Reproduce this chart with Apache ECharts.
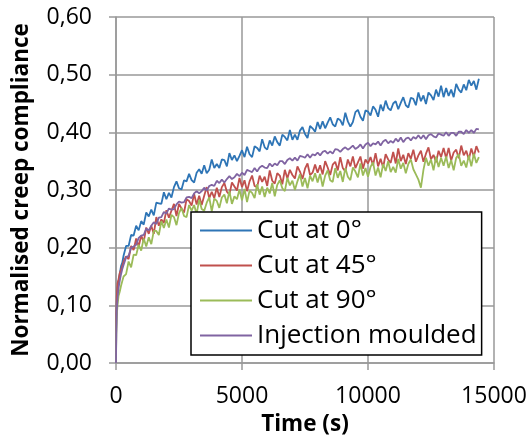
<!DOCTYPE html>
<html><head><meta charset="utf-8">
<script src="https://cdn.jsdelivr.net/npm/echarts@6/dist/echarts.min.js"></script>
<style>html,body{margin:0;padding:0;background:#fff}#c{width:531px;height:447px}</style>
</head><body><div id="c"></div>
<script>
const seriesNames = ['Cut at 0°', 'Cut at 45°', 'Cut at 90°', 'Injection moulded'];
const xTicks = [0, 5000, 10000, 15000];
const yTicks = [0, 0.1, 0.2, 0.3, 0.4, 0.5, 0.6];
const times = [0,10,30,60,100,150,200,250,300,
400,500,600,700,800,900,1000,
1100,1200,1300,1400,1500,1600,1700,1800,1900,2000,
2100,2200,2300,2400,2500,2600,2700,2800,2900,3000,
3100,3200,3300,3400,3500,3600,3700,3800,3900,4000,
4100,4200,4300,4400,4500,4600,4700,4800,4900,5000,
5100,5200,5300,5400,5500,5600,5700,5800,5900,6000,
6100,6200,6300,6400,6500,6600,6700,6800,6900,7000,
7100,7200,7300,7400,7500,7600,7700,7800,7900,8000,
8100,8200,8300,8400,8500,8600,8700,8800,8900,9000,
9100,9200,9300,9400,9500,9600,9700,9800,9900,10000,
10100,10200,10300,10400,10500,10600,10700,10800,10900,11000,
11100,11200,11300,11400,11500,11600,11700,11800,11900,12000,
12100,12200,12300,12400,12500,12600,12700,12800,12900,13000,
13100,13200,13300,13400,13500,13600,13700,13800,13900,14000,
14100,14200,14300,14400];
const cut0 = [0,0.06,0.105,0.13,0.142,0.155,0.168,0.174,0.186,
0.203,0.203,0.222,0.221,0.238,0.23,0.246,
0.24,0.261,0.254,0.266,0.256,0.278,0.277,0.276,0.296,0.284,
0.295,0.287,0.305,0.315,0.303,0.301,0.317,0.315,0.328,0.317,
0.313,0.33,0.336,0.328,0.343,0.329,0.335,0.353,0.338,0.345,
0.338,0.353,0.352,0.341,0.364,0.352,0.36,0.35,0.359,0.369,
0.357,0.375,0.362,0.357,0.376,0.373,0.367,0.388,0.374,0.37,
0.386,0.377,0.393,0.383,0.377,0.396,0.392,0.386,0.404,0.387,
0.396,0.387,0.403,0.409,0.397,0.39,0.411,0.407,0.401,0.418,
0.406,0.419,0.407,0.417,0.426,0.414,0.41,0.424,0.421,0.412,
0.434,0.419,0.41,0.418,0.435,0.439,0.427,0.42,0.438,0.436,
0.429,0.445,0.439,0.427,0.448,0.437,0.455,0.442,0.438,0.45,
0.454,0.44,0.451,0.461,0.447,0.443,0.46,0.458,0.447,0.469,
0.454,0.464,0.449,0.469,0.464,0.456,0.474,0.462,0.481,0.461,
0.477,0.463,0.474,0.461,0.484,0.474,0.469,0.483,0.473,0.491,
0.481,0.489,0.474,0.493];
const cut45 = [0,0.075,0.115,0.138,0.145,0.156,0.162,0.168,0.176,
0.185,0.18,0.203,0.196,0.216,0.202,0.221,
0.21,0.235,0.224,0.238,0.224,0.253,0.238,0.249,0.243,0.265,
0.252,0.264,0.276,0.255,0.276,0.268,0.261,0.284,0.281,0.273,
0.293,0.275,0.29,0.274,0.29,0.305,0.286,0.297,0.286,0.304,
0.288,0.305,0.312,0.297,0.292,0.313,0.306,0.299,0.321,0.305,
0.317,0.298,0.315,0.325,0.307,0.305,0.325,0.314,0.323,0.307,
0.334,0.316,0.311,0.329,0.325,0.31,0.335,0.32,0.335,0.326,
0.32,0.341,0.332,0.319,0.337,0.346,0.326,0.33,0.344,0.33,
0.343,0.327,0.35,0.339,0.326,0.344,0.349,0.334,0.357,0.338,
0.332,0.353,0.341,0.358,0.338,0.348,0.358,0.337,0.353,0.346,
0.357,0.343,0.364,0.341,0.354,0.339,0.362,0.353,0.347,0.366,
0.346,0.372,0.35,0.361,0.345,0.364,0.354,0.37,0.349,0.36,
0.368,0.349,0.363,0.374,0.353,0.361,0.348,0.368,0.357,0.373,
0.355,0.373,0.351,0.365,0.37,0.355,0.377,0.36,0.368,0.353,
0.372,0.358,0.376,0.365];
const cut90 = [0,0.05,0.082,0.1,0.116,0.124,0.134,0.142,0.15,
0.154,0.176,0.166,0.188,0.187,0.205,0.195,
0.216,0.202,0.218,0.206,0.229,0.229,0.222,0.246,0.234,0.249,
0.235,0.257,0.253,0.239,0.26,0.269,0.255,0.253,0.274,0.264,
0.274,0.258,0.283,0.267,0.264,0.278,0.287,0.263,0.285,0.281,
0.269,0.287,0.292,0.277,0.298,0.276,0.289,0.284,0.301,0.282,
0.302,0.279,0.299,0.295,0.286,0.31,0.292,0.306,0.288,0.304,
0.294,0.312,0.289,0.309,0.317,0.303,0.298,0.321,0.308,0.316,
0.3,0.315,0.327,0.306,0.321,0.303,0.325,0.315,0.329,0.313,
0.328,0.306,0.325,0.334,0.317,0.314,0.338,0.321,0.333,0.314,
0.338,0.323,0.317,0.339,0.332,0.322,0.346,0.325,0.338,0.323,
0.34,0.348,0.325,0.339,0.322,0.345,0.333,0.35,0.331,0.34,
0.33,0.354,0.337,0.347,0.329,0.345,0.353,0.336,0.327,0.318,
0.304,0.335,0.356,0.342,0.353,0.334,0.358,0.34,0.356,0.342,
0.358,0.338,0.352,0.334,0.356,0.362,0.342,0.351,0.339,0.36,
0.341,0.363,0.347,0.357];
const injection = [0,0.05,0.09,0.113,0.13,0.143,0.154,0.163,0.17,
0.183,0.186,0.2,0.202,0.205,0.217,0.221,
0.222,0.233,0.23,0.238,0.244,0.241,0.252,0.253,0.262,0.259,
0.268,0.266,0.267,0.275,0.28,0.278,0.279,0.287,0.288,0.286,
0.294,0.298,0.294,0.298,0.304,0.299,0.307,0.309,0.307,0.316,
0.312,0.318,0.313,0.319,0.324,0.319,0.322,0.328,0.324,0.33,
0.326,0.335,0.333,0.331,0.338,0.332,0.339,0.342,0.339,0.338,
0.346,0.341,0.346,0.343,0.35,0.35,0.345,0.352,0.355,0.351,
0.356,0.351,0.359,0.358,0.356,0.362,0.356,0.362,0.36,0.365,
0.36,0.366,0.368,0.363,0.367,0.363,0.371,0.37,0.366,0.371,
0.374,0.37,0.373,0.377,0.371,0.374,0.379,0.372,0.379,0.382,
0.376,0.381,0.379,0.384,0.377,0.384,0.387,0.381,0.385,0.382,
0.389,0.384,0.391,0.383,0.389,0.391,0.386,0.392,0.389,0.395,
0.389,0.395,0.388,0.395,0.397,0.393,0.391,0.398,0.396,0.394,
0.4,0.394,0.399,0.399,0.394,0.401,0.401,0.397,0.404,0.399,
0.404,0.399,0.406,0.405];

const values = [cut0, cut45, cut90, injection];
const colors = ['#2e75b6', '#c0504d', '#9bbb59', '#8064a2'];
const FONT = 'Open Sans';
const gridColor = '#999999';

const chart = echarts.init(document.getElementById('c'), null, {renderer: 'canvas'});
chart.setOption({
  animation: false,
  backgroundColor: '#ffffff',
  textStyle: {fontFamily: FONT, color: '#000'},
  grid: {left: 116, top: 17, right: 37, bottom: 84, containLabel: false},
  xAxis: {
    type: 'value', min: xTicks[0], max: xTicks[xTicks.length - 1], interval: xTicks[1] - xTicks[0],
    name: 'Time (s)', nameLocation: 'middle', nameGap: 47,
    nameTextStyle: {fontFamily: FONT, fontWeight: 'bold', fontSize: 22.5, color: '#000'},
    axisLine: {show: true, lineStyle: {color: gridColor, width: 1.5}},
    axisTick: {show: true, inside: false, length: 7, lineStyle: {color: gridColor, width: 1.5}},
    axisLabel: {fontFamily: FONT, fontSize: 23, color: '#000', margin: 22, formatter: v => String(v)},
    splitLine: {show: true, lineStyle: {color: gridColor, width: 1.5}}
  },
  yAxis: {
    type: 'value', min: yTicks[0], max: yTicks[yTicks.length - 1], interval: 0.1,
    name: 'Normalised creep compliance', nameLocation: 'middle', nameGap: 83,
    nameTextStyle: {fontFamily: FONT, fontWeight: 'bold', fontSize: 22.5, color: '#000'},
    axisLine: {show: true, lineStyle: {color: gridColor, width: 1.5}},
    axisTick: {show: true, inside: false, length: 7, lineStyle: {color: gridColor, width: 1.5}},
    axisLabel: {fontFamily: FONT, fontSize: 23, color: '#000', margin: 24,
      formatter: v => v.toFixed(2).replace('.', ',')},
    splitLine: {show: true, lineStyle: {color: gridColor, width: 1.5}}
  },
  legend: {
    data: seriesNames,
    orient: 'vertical', left: 191, top: 212,
    backgroundColor: '#ffffff', borderColor: '#000', borderWidth: 1.5,
    padding: [1, 5, 2, 9],
    itemWidth: 52, itemHeight: 2, itemGap: 0, itemTextGap: 6,
    icon: 'rect', selectedMode: false,
    textStyle: {fontFamily: FONT, fontSize: 26, color: '#000', lineHeight: 35}
  },
  series: seriesNames.map((n, i) => ({
    name: n, type: 'line', showSymbol: false, symbol: 'none',
    color: colors[i],
    lineStyle: {color: colors[i], width: 1.8},
    data: times.map((t, k) => [t, values[i][k]])
  }))
});
</script></body></html>
